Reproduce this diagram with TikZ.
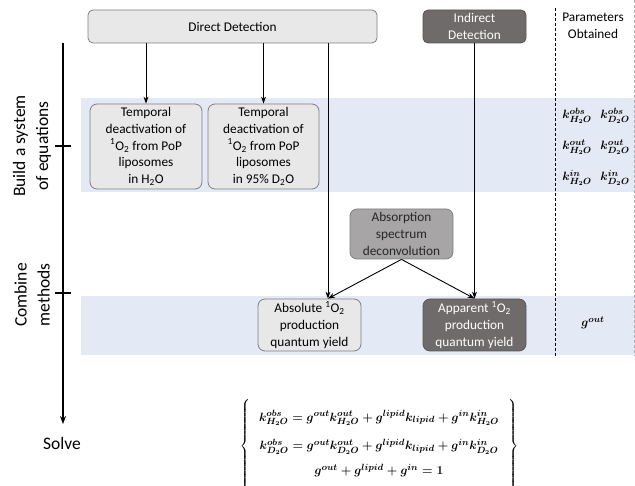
\documentclass[tikz,border=0pt]{standalone}
\usepackage[no-math]{fontspec}
\setmainfont{Carlito}
\usepackage{amsmath}
\usetikzlibrary{arrows.meta}
\definecolor{band}{HTML}{E4EAF5}
\definecolor{lightbox}{HTML}{E8E8E8}
\definecolor{darkbox}{HTML}{6F6B6A}
\definecolor{midbox}{HTML}{A7A5A5}
\definecolor{boxline}{HTML}{7F7F7F}
\newcommand{\sO}{\textsuperscript{1}O\textsubscript{2}}
\newsavebox{\myeqbox}
\newcommand{\eqrowa}{k^{obs}_{H_2O} = g^{out}k^{out}_{H_2O} + g^{lipid}k_{lipid} + g^{in}k^{in}_{H_2O}}
\newcommand{\eqrowb}{k^{obs}_{D_2O} = g^{out}k^{out}_{D_2O} + g^{lipid}k_{lipid} + g^{in}k^{in}_{D_2O}}
\newcommand{\eqrowc}{g^{out} + g^{lipid} + g^{in} = 1}
\tikzset{
  boxfont/.style={font=\fontsize{13.3}{16.8}\selectfont},
  lbox/.style={boxfont, draw=boxline, fill=lightbox, rounded corners=7pt, align=center, inner sep=0pt, line width=0.8pt},
  dbox/.style={lbox, fill=darkbox, draw=darkbox!80!black, text=white},
  mbox/.style={lbox, fill=midbox, draw=boxline, text=black!85},
  arr/.style={-{Stealth[length=7pt,width=5pt]}, line width=0.9pt},
  sidelab/.style={font=\fontsize{17.5}{23}\selectfont, align=center},
  param/.style={font=\fontsize{13}{15}\selectfont\boldmath},
}
\begin{document}
\begin{tikzpicture}[x=1pt,y=-1pt]
\sbox{\myeqbox}{\fontsize{12.4}{14}\selectfont\boldmath\renewcommand{\arraystretch}{1.25}$\left\{\;\begin{array}{c}\rule{0pt}{22pt}\eqrowa\\[11pt]\eqrowb\\[8pt]\eqrowc\rule[-18pt]{0pt}{18pt}\end{array}\;\right\}$}
\useasboundingbox (0,0) rectangle (635,486);
% bands
\fill[band] (81,98) rectangle (635,192);
\fill[band] (81,296) rectangle (635,355);
% dashed separators
\coordinate (dtop) at (555,8);
\coordinate (dbot) at (555,356);
\draw[line width=0.9pt, dash pattern=on 3pt off 2pt] (dtop) -- (dbot);
\coordinate (rtop) at (634,0);
\coordinate (rbot) at (634,356);
\draw[gray!60, line width=0.8pt, dash pattern=on 3pt off 2pt] (rtop) -- (rbot);
% top boxes
\node[lbox, rounded corners=5pt, minimum width=289pt, minimum height=33pt] (direct) at (232.5,26.5) {Direct Detection};
\node[dbox, rounded corners=5pt, minimum width=103pt, minimum height=33pt] (indirect) at (474.5,26.5) {Indirect\\Detection};
\node[boxfont, align=center] (params) at (593,26) {Parameters\\Obtained};
% temporal boxes
\node[lbox, minimum width=112pt, minimum height=85pt] (t1) at (146,146.5) {Temporal\\deactivation of\\\sO{} from PoP\\liposomes\\in H\textsubscript{2}O};
\node[lbox, minimum width=111pt, minimum height=85pt] (t2) at (263.5,146.5) {Temporal\\deactivation of\\\sO{} from PoP\\liposomes\\in 95\% D\textsubscript{2}O};
% middle
\node[mbox, minimum width=103pt, minimum height=50pt] (absorp) at (401.5,234) {Absorption\\spectrum\\deconvolution};
\node[lbox, minimum width=103pt, minimum height=52pt] (abs) at (309.5,325) {Absolute \sO\\production\\quantum yield};
\node[dbox, minimum width=103pt, minimum height=52pt] (app) at (474.5,325) {Apparent \sO\\production\\quantum yield};
\coordinate (absin) at ([xshift=18.5pt]abs.north);
% parameters
\node[param] (p1) at (577,116) {$k^{obs}_{H_2O}$};
\node[param] (p2) at (615,116) {$k^{obs}_{D_2O}$};
\node[param] (p3) at (577,147) {$k^{out}_{H_2O}$};
\node[param] (p4) at (615,147) {$k^{out}_{D_2O}$};
\node[param] (p5) at (577,178) {$k^{in}_{H_2O}$};
\node[param] (p6) at (615,178) {$k^{in}_{D_2O}$};
\node[param] (p7) at (593,323) {$g^{out}$};
% connectors
\draw[arr] (direct.south -| t1.north) -- (t1.north);
\draw[arr] (direct.south -| t2.north) -- (t2.north);
\draw[arr] (absin |- direct.south) -- (absin);
\draw[arr] (indirect.south) -- (app.north);
\draw[arr] (absorp.south) -- (absin);
\draw[arr] (absorp.south) -- (app.north);
% left axis
\coordinate (axtop) at (63,43);
\coordinate (axbot) at (63,424);
\draw[-{Stealth[length=8pt,width=6pt]}, line width=1.8pt] (axtop) -- (axbot);
\coordinate (tk1a) at (55,146); \coordinate (tk1b) at (71,146);
\coordinate (tk2a) at (55,293); \coordinate (tk2b) at (71,293);
\draw[line width=1.5pt] (tk1a) -- (tk1b);
\draw[line width=1.5pt] (tk2a) -- (tk2b);
\node[sidelab, rotate=90] (lab1) at (32,146) {Build a system\\of equations};
\node[sidelab, rotate=90] (lab2) at (32,295) {Combine\\methods};
\node[sidelab] (solve) at (62,443) {Solve};
% equations
\node[inner sep=0pt] (eqs) at (379,446) {\usebox{\myeqbox}};
\end{tikzpicture}
\end{document}
